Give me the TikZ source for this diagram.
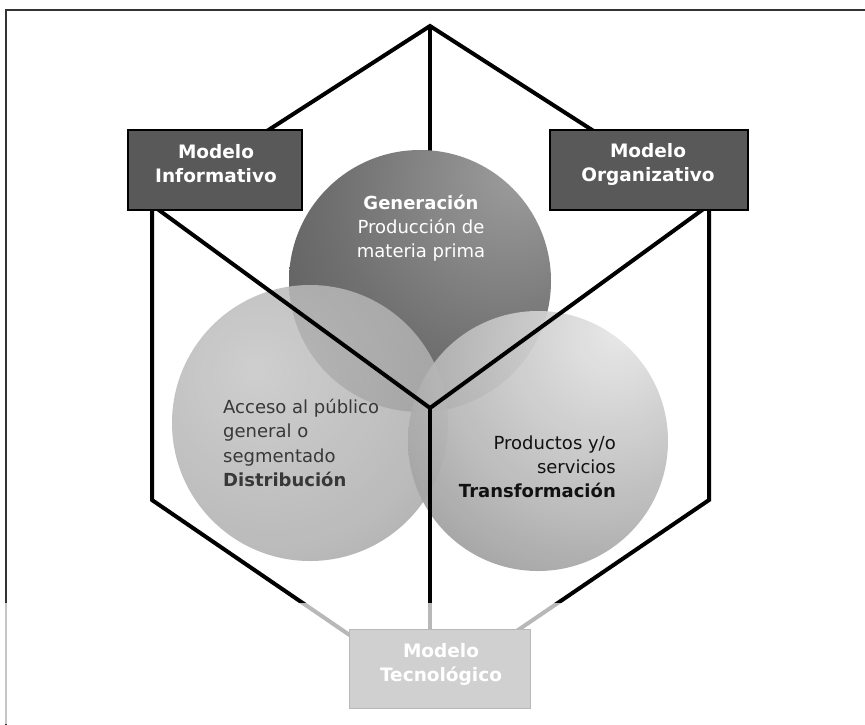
\documentclass[tikz,border=0pt]{standalone}
\usepackage{fontspec}
\setmainfont{DejaVu Sans}
\usetikzlibrary{calc}
\definecolor{boxfill}{HTML}{595959}
\definecolor{framec}{HTML}{333333}
\definecolor{distext}{HTML}{383838}
\definecolor{tratext}{HTML}{111111}
\pgfdeclareradialshading{genshade}{\pgfpoint{20bp}{22bp}}{color(0bp)=(black!38); color(30bp)=(black!56); color(70bp)=(black!74); color(100bp)=(black!74)}
\pgfdeclareradialshading{disshade}{\pgfpoint{-10bp}{10bp}}{color(0bp)=(black!22); color(30bp)=(black!31); color(62bp)=(black!47); color(100bp)=(black!47)}
\pgfdeclareradialshading{trashade}{\pgfpoint{16bp}{22bp}}{color(0bp)=(black!9); color(30bp)=(black!28); color(75bp)=(black!62); color(100bp)=(black!62)}
\tikzset{
  hexline/.style={line width=4pt, black, line join=miter, line cap=butt},
  modelbox/.style={draw=black, line width=1.6pt, fill=boxfill, minimum height=80pt, inner sep=0pt},
  boxtext/.style={text=white, font=\fontsize{18.5}{24}\selectfont\bfseries, align=center, inner sep=0pt},
  circtext/.style={font=\fontsize{18}{24.2}\selectfont, inner sep=0pt},
}
\begin{document}
\begin{tikzpicture}[x=1pt,y=-1pt]
\useasboundingbox (0,0) rectangle (865,724);
\fill[white] (0,0) rectangle (865,724);
% frame
\coordinate (f1) at (6,730);
\coordinate (f2) at (6,10);
\coordinate (f3) at (870,10);
\draw[framec, line width=2pt] (f1) -- (f2) -- (f3);
% hexagon vertices
\coordinate (T) at (430,26);
\coordinate (UL) at (152,205);
\coordinate (LL) at (152,500);
\coordinate (B) at (430,690);
\coordinate (LR) at (709,500);
\coordinate (UR) at (709,205);
\coordinate (C) at (430,408);
% back line
\draw[hexline] (T) -- (C);
% circles
\coordinate (gc) at (420,281);
\coordinate (dc) at (310,423);
\coordinate (tc) at (538,441);
\shade[shading=genshade] (gc) circle[radius=131];
\shade[shading=disshade, opacity=0.86] (dc) circle[radius=138];
\shade[shading=trashade, opacity=0.94] (tc) circle[radius=130];
% hexagon lines
\draw[hexline] (UL) -- (T) -- (UR);
\draw[hexline] (UL) -- (LL) -- (B) -- (LR) -- (UR);
\draw[hexline] (UL) -- (C) -- (UR);
\draw[hexline] (C) -- (B);
% boxes
\node[modelbox, minimum width=174pt] (inf) at (215,170) {};
\node[boxtext] (inft) at (216,164) {Modelo\\Informativo};
\node[modelbox, minimum width=198pt] (org) at (649,170) {};
\node[boxtext] (orgt) at (648,164) {Modelo\\Organizativo};
\node[modelbox, minimum width=181pt, minimum height=79pt] (tec) at (440,669) {};
\node[boxtext] (tect) at (441,664) {Modelo\\Tecnológico};
% circle texts
\node[circtext, text=white, align=center] (gent) at (421,228) {\textbf{Generación}\\Producción de\\materia prima};
\node[circtext, text=distext, align=left, anchor=west] (dist) at (223,443) {Acceso al público\\general o\\segmentado\\\textbf{Distribución}};
\node[circtext, text=tratext, align=right, anchor=east] (trat) at (616,467) {Productos y/o\\servicios\\\textbf{Transformación}};
% fade at the bottom
\fill[white, opacity=0.72] (0,603) rectangle (865,724);
\end{tikzpicture}
\end{document}
